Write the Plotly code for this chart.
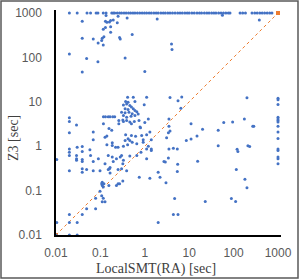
import plotly.graph_objects as go

# Z3 timeout row (y = 1000)
top_x = [0.02, 0.03, 0.05, 0.06, 0.08, 0.088, 0.116, 0.134, 0.18, 0.195, 0.21, 0.24, 0.27, 0.3, 0.34,
         0.38, 0.43, 0.48, 0.54, 0.6, 0.68, 0.77, 0.87, 0.98, 1.1, 1.25, 1.4, 1.6, 1.8, 2.0, 2.3,
         2.6, 2.9, 3.3, 3.7, 4.2, 4.8, 5.5, 6.2, 7, 8, 9, 10, 11.5, 13, 15, 17, 19, 22, 25, 28,
         32, 36, 40, 46, 52, 59, 67, 76, 83, 140, 160, 185, 260, 300, 340, 390, 440, 500, 570,
         650, 730]
# LocalSMT timeout column (x = 1000)
right_y = [12.1, 11.1, 8.7, 4.5, 4.1, 3.8, 3.5, 2.8, 2.1, 1.5, 0.87, 0.8, 0.57, 0.52, 0.4]

upper_pts = [(0.039, 650), (0.134, 880), (0.25, 840), (0.40, 770), (1.9, 730), (0.195, 700),
             (0.13, 650), (0.14, 620), (0.16, 630), (0.17, 680), (0.24, 600), (0.17, 490),
             (0.13, 470), (0.116, 430), (0.17, 370), (0.039, 270), (0.069, 260), (0.11, 270),
             (0.107, 240), (0.12, 290), (0.089, 210), (0.27, 280), (0.28, 260), (0.52, 330),
             (0.116, 190), (0.02, 120), (0.049, 95), (0.088, 80), (0.36, 97), (0.039, 47),
             (1.0, 48), (4.0, 200), (4.1, 150), (380, 700), (56, 890)]

cluster_pts = [(0.41, 12.7), (0.55, 12.7), (1.1, 12.7), (0.37, 10.2), (0.6, 10.2), (0.33, 8.5),
               (0.39, 8.9), (0.46, 8.3), (0.5, 7.6), (0.36, 6.95), (0.42, 6.7), (0.55, 6.95),
               (0.30, 5.8), (0.36, 5.65), (0.44, 5.8), (0.52, 5.4), (0.66, 6.0), (0.33, 4.9),
               (0.39, 4.5), (0.49, 4.7), (0.6, 4.9), (0.26, 3.2), (0.33, 3.6), (0.39, 3.8),
               (0.46, 3.5), (0.58, 3.6), (0.74, 3.8), (1.0, 3.4), (1.2, 4.1), (0.156, 2.5),
               (0.18, 2.3), (0.37, 1.8), (0.42, 1.47), (0.5, 1.74), (0.62, 1.68), (0.36, 1.34),
               (0.46, 1.34), (0.85, 1.74), (1.1, 1.8), (1.3, 2.1), (0.127, 1.6), (0.14, 1.08),
               (0.185, 1.04), (0.22, 0.95), (0.25, 0.95), (0.33, 1.0), (0.41, 1.08), (0.52, 1.23),
               (0.66, 1.14), (0.92, 1.23), (1.2, 1.0), (0.15, 0.62), (0.185, 0.57), (0.23, 0.52),
               (0.28, 0.57), (0.3, 0.62), (0.33, 0.48), (0.46, 0.6), (0.66, 0.62), (0.82, 0.73),
               (1.1, 0.87), (1.4, 0.8), (0.127, 0.4), (0.195, 0.45), (0.97, 8.6), (0.8, 2.6),
               (0.92, 1.4), (0.26, 3.8), (0.32, 3.9), (0.14, 1.7), (0.185, 1.2), (1.4, 1.4),
               (1.4, 0.87), (0.6, 6.4), (0.71, 5.3), (0.5, 3.2), (0.78, 2.7), (0.42, 9.8)]

left_pts = [(0.02, 4.4), (0.02, 3.6), (0.029, 3.0), (0.02, 2.0), (0.069, 2.1), (0.117, 3.2),
            (0.117, 4.6), (0.13, 4.6), (0.15, 4.6), (0.165, 4.6), (0.19, 4.6), (0.21, 4.6),
            (0.069, 1.4), (0.02, 0.87), (0.02, 0.73), (0.02, 0.62), (0.03, 0.95), (0.039, 0.98),
            (0.039, 0.76), (0.058, 0.83), (0.029, 0.62), (0.029, 0.52), (0.029, 0.48),
            (0.039, 0.5), (0.039, 0.45), (0.06, 0.62), (0.09, 0.52), (0.069, 0.45), (0.0104, 0.5)]

lower_pts = [(0.02, 0.28), (0.039, 0.31), (0.039, 0.26), (0.049, 0.3), (0.069, 0.28), (0.098, 0.28),
             (0.16, 0.31), (0.15, 0.3), (0.165, 0.33), (0.165, 0.25), (0.32, 0.4), (0.3, 0.31),
             (0.25, 0.3), (0.39, 0.28), (0.75, 0.2), (1.3, 0.19), (2.0, 0.26), (2.2, 0.2),
             (2.7, 0.45), (1.1, 0.52), (0.11, 0.155), (0.12, 0.143), (0.11, 0.13), (0.116, 0.12),
             (0.107, 0.143), (0.155, 0.13), (0.23, 0.13), (0.25, 0.143), (0.27, 0.143),
             (0.32, 0.165), (0.098, 0.097), (0.107, 0.077), (0.116, 0.067), (0.11, 0.056),
             (0.127, 0.056), (0.078, 0.067), (0.049, 0.039), (0.078, 0.039), (0.039, 0.029),
             (0.02, 0.029), (0.02, 0.019), (0.03, 0.019), (0.0104, 0.019), (0.01, 0.01),
             (0.02, 0.01), (0.03, 0.01), (2.0, 0.019)]

right_pts = [(3.7, 12.5), (6.8, 12.8), (5.6, 10.5), (6.5, 7.2), (200, 12.4), (3.5, 4.1), (3.5, 2.8),
             (3.7, 2.2), (3.4, 2.0), (3.1, 1.55), (11, 3.2), (20, 2.4), (15, 1.7), (8.6, 1.35),
             (11, 1.45), (60, 3.4), (95, 3.5), (45, 2.3), (175, 4.1), (270, 2.8), (285, 2.8),
             (210, 1.03), (230, 0.98), (120, 0.85), (125, 0.76), (45, 1.03), (3.5, 0.87),
             (4.4, 0.9), (5.4, 0.86), (3.4, 0.54), (5.5, 0.39), (5.4, 0.27), (15.5, 0.46),
             (2.9, 0.44), (3.0, 0.15), (115, 0.3), (180, 0.18), (200, 0.116), (89, 0.066),
             (111, 0.057), (4.7, 0.066), (23, 0.057), (4.4, 0.029), (5.6, 0.029)]

diag = [0.01, 1000]
tick_vals = [0.01, 0.1, 1, 10, 100, 1000]
tick_text = ["0.01", "0.1", "1", "10", "100", "1000"]

xs = list(top_x) + [1000] * len(right_y)
ys = [1000] * len(top_x) + list(right_y)
for grp in (upper_pts, cluster_pts, left_pts, lower_pts, right_pts):
    xs += [p[0] for p in grp]
    ys += [p[1] for p in grp]

fig = go.Figure()
fig.add_trace(go.Scatter(x=diag, y=diag, mode="lines+markers",
                         line=dict(color="#ED7D31", width=1, dash="dot"),
                         marker=dict(color="#ED7D31", size=4, symbol="square"),
                         cliponaxis=False, hoverinfo="skip"))
fig.add_trace(go.Scatter(x=xs, y=ys, mode="markers",
                         marker=dict(color="#4472C4", size=3),
                         cliponaxis=False))

tick_font = dict(family="Liberation Sans, Arial, sans-serif", size=12, color="#595959")
axis_common = dict(type="log", range=[-2, 3.0676], tickvals=tick_vals, ticktext=tick_text,
                   showgrid=False, zeroline=False, showline=True, linecolor="black",
                   linewidth=1.5, ticks="", tickfont=tick_font, automargin=False)
fig.update_xaxes(**axis_common, ticklabelstandoff=6)
fig.update_yaxes(**axis_common, ticklabelstandoff=10)

W, H = 300, 279
L, R, T, B = 56, 19, 10, 44
pw, ph = W - L - R, H - T - B

def px_x(p):
    return (p - L) / pw

def px_y(p):
    return (H - B - p) / ph

title_font = dict(family="Liberation Serif, Times New Roman, serif", size=14, color="#404040")
fig.add_annotation(text="LocalSMT(RA) [sec]", xref="paper", yref="paper",
                   x=px_x(156), y=px_y(269), showarrow=False, font=title_font,
                   xanchor="center", yanchor="middle")
fig.add_annotation(text="Z3 [sec]", xref="paper", yref="paper",
                   x=px_x(13), y=px_y(138), showarrow=False, font=title_font,
                   textangle=-90, xanchor="center", yanchor="middle")
fig.add_shape(type="rect", xref="paper", yref="paper",
              x0=px_x(1), x1=px_x(298), y0=px_y(278), y1=px_y(1),
              line=dict(color="#595959", width=1.5), fillcolor="rgba(0,0,0,0)", layer="above")

fig.update_layout(width=W, height=H, margin=dict(l=L, r=R, t=T, b=B, autoexpand=False),
                  paper_bgcolor="white", plot_bgcolor="white", showlegend=False)
fig.write_html("out.html", config={"displayModeBar": False},
               post_script="document.body.style.margin='0';document.body.style.overflow='hidden';")
